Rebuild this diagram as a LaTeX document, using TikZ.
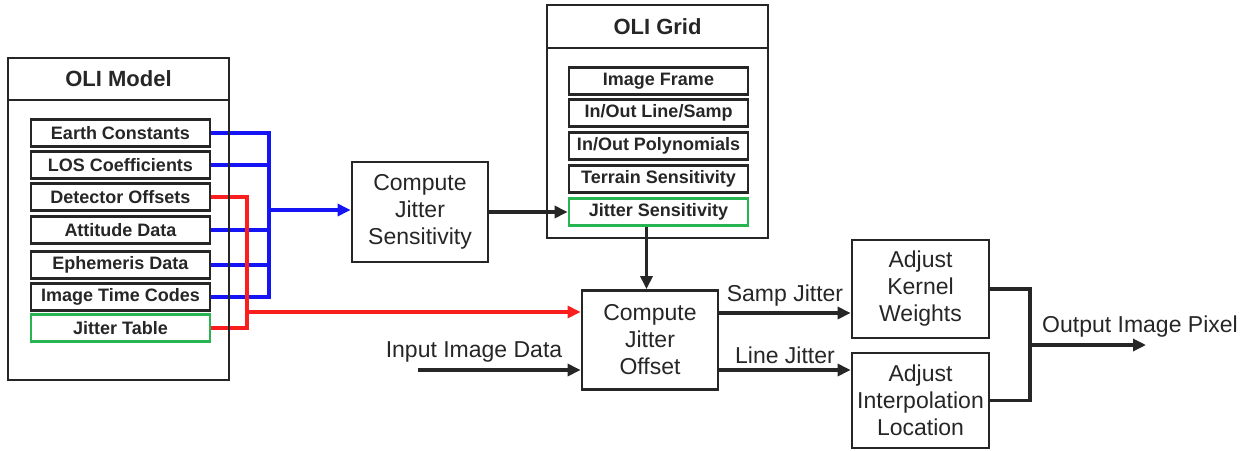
\documentclass[tikz,border=0pt]{standalone}
\usepackage{fontspec}
\setmainfont{Liberation Sans}
\usepackage{tikz}
\usetikzlibrary{arrows.meta}
\definecolor{inkcolor}{RGB}{38, 38, 38}
\definecolor{busblue}{RGB}{20, 20, 245}
\definecolor{busred}{RGB}{250, 30, 30}
\definecolor{keygreen}{RGB}{40, 180, 80}

\tikzset{
    frame/.style={draw=inkcolor, line width=2.8pt, minimum width=221pt},
    item/.style={draw=inkcolor, line width=2.8pt, minimum width=179pt, minimum height=27pt,
        inner sep=0pt, text=inkcolor, font=\fontsize{18}{20}\selectfont\bfseries},
    keyitem/.style={item, draw=keygreen},
    proc/.style={draw=inkcolor, line width=2.8pt, align=center, inner sep=0pt, text=inkcolor,
        font=\fontsize{23}{27}\selectfont},
    wire/.style={inkcolor, line width=3.2pt},
    flow/.style={wire, -{Triangle[length=13pt, width=12pt]}},
    lbl/.style={text=inkcolor, inner sep=0pt, font=\fontsize{23}{27}\selectfont}
}

\begin{document}
\begin{tikzpicture}[x=1pt, y=-1pt]
    \useasboundingbox (0,0) rectangle (1249,450);

    % OLI Model contents
    \node[item] (earth) at (120.5,133) {Earth Constants};
    \node[item] (los) at (120.5,165) {LOS Coefficients};
    \node[item] (detector) at (120.5,197) {Detector Offsets};
    \node[item] (attitude) at (120.5,230) {Attitude Data};
    \node[item] (ephemeris) at (120.5,265) {Ephemeris Data};
    \node[item] (timecodes) at (120.5,297) {Image Time Codes};
    \node[keyitem] (jittable) at (120.5,328) {Jitter Table};

    % OLI Grid contents
    \node[item] (frame) at (658.5,81) {Image Frame};
    \node[item] (linesamp) at (658.5,113) {In/Out Line/Samp};
    \node[item] (poly) at (658.5,146) {In/Out Polynomials};
    \node[item] (terrain) at (658.5,179) {Terrain Sensitivity};
    \node[keyitem] (jitsens) at (658.5,212) {Jitter Sensitivity};

    % Processing steps
    \node[proc, minimum width=136pt, minimum height=100pt] (sens) at (420,212) {Compute\\Jitter\\Sensitivity};
    \node[proc, minimum width=136pt, minimum height=99pt] (offset) at (650,340) {Compute\\Jitter\\Offset};
    \node[proc, minimum width=137pt, minimum height=98pt] (kernel) at (920.5,289) {Adjust\\Kernel\\Weights};
    \node[proc, minimum width=137pt, minimum height=95pt] (interp) at (920.5,400.5) {Adjust\\Interpolation\\Location};

    % Blue bus
    \coordinate (bluebus) at (269,210);
    \draw[wire, busblue] (earth.east) -| (bluebus);
    \draw[wire, busblue] (los.east) -| (bluebus);
    \draw[wire, busblue] (attitude.east) -| (bluebus);
    \draw[wire, busblue] (ephemeris.east) -| (bluebus);
    \draw[wire, busblue] (timecodes.east) -| (bluebus);
    \draw[flow, busblue] (bluebus) -- (bluebus -| sens.west);

    % Red bus
    \coordinate (redbus) at (247,312);
    \draw[wire, busred] (detector.east) -| (redbus);
    \draw[wire, busred] (jittable.east) -| (redbus);
    \draw[flow, busred] (redbus) -- (redbus -| offset.west);

    % Jitter sensitivity path
    \draw[flow] (sens.east) -- (jitsens.west);
    \draw[flow] ([xshift=-12pt]jitsens.south) -- ([xshift=-12pt]jitsens.south |- offset.north);

    % Input image data
    \coordinate (input) at (418,370);
    \draw[flow] (input) -- (input -| offset.west);
    \node[lbl] (inputlbl) at (474,352) {Input Image Data};

    % Jitter outputs
    \draw[flow] ([yshift=27pt]offset.east) -- node[lbl, above=5pt] (samplbl) {Samp Jitter} ([yshift=27pt]offset.east -| kernel.west);
    \draw[flow] ([yshift=-30pt]offset.east) -- node[lbl, above=5pt] (linelbl) {Line Jitter} ([yshift=-30pt]offset.east -| interp.west);

    % Output
    \coordinate (join) at (1030,345);
    \coordinate (output) at (1146,345);
    \draw[wire] (kernel.east) -| (join) |- (interp.east);
    \draw[flow] (join) -- (output);
    \node[lbl] (outlbl) at (1140,327) {Output Image Pixel};

    % Frames on top
    \node[frame, minimum height=42pt, font=\fontsize{22}{24}\selectfont\bfseries, text=inkcolor] (modeltitle) at (118.5,79) {OLI Model};
    \node[frame, minimum height=280pt] (model) at (118.5,240) {};
    \node[frame, minimum height=43pt, font=\fontsize{22}{24}\selectfont\bfseries, text=inkcolor] (gridtitle) at (657.5,26.5) {OLI Grid};
    \node[frame, minimum height=190pt] (grid) at (657.5,143) {};

\end{tikzpicture}
\end{document}
